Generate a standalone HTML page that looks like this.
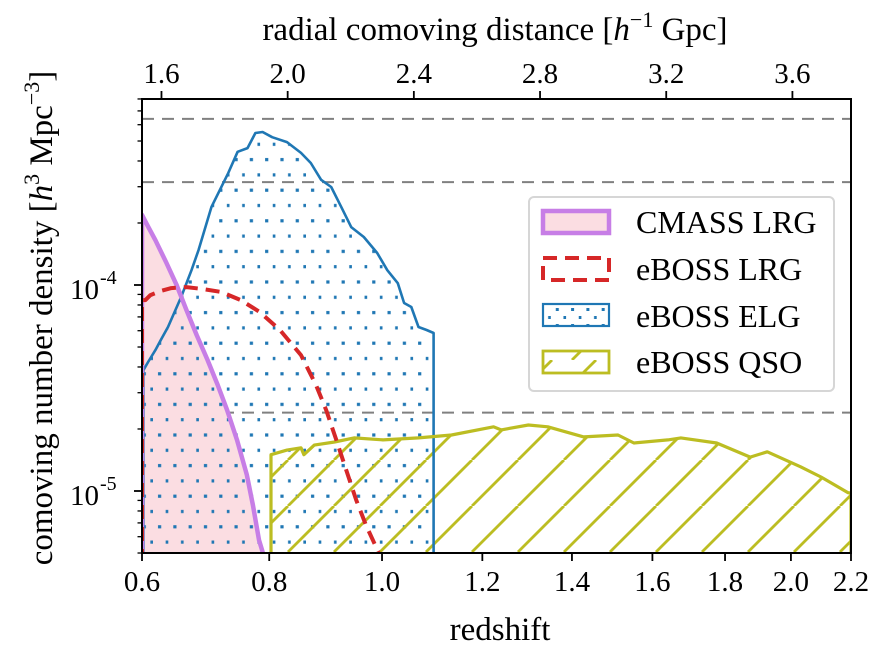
<!DOCTYPE html>
<html><head><meta charset="utf-8"><style>
html,body{margin:0;padding:0;background:#fff;}
svg{display:block;font-family:"Liberation Serif","DejaVu Serif",serif;}
</style></head><body>
<svg id="chart" width="890" height="652" viewBox="0 0 890 652" xmlns="http://www.w3.org/2000/svg">
<defs>
<pattern id="dots" patternUnits="userSpaceOnUse" width="15.3" height="30.6" x="0" y="0">
<rect x="5" y="5" width="3.2" height="3.2" fill="#1f77b4"/>
<rect x="12.65" y="20.3" width="3.2" height="3.2" fill="#1f77b4"/>
</pattern>
<pattern id="hatch" patternUnits="userSpaceOnUse" width="46" height="46" x="12" y="0">
<line x1="-46" y1="46" x2="0" y2="0" stroke="#bcbd22" stroke-width="2.8"/>
<line x1="0" y1="46" x2="46" y2="0" stroke="#bcbd22" stroke-width="2.8"/>
<line x1="46" y1="46" x2="92" y2="0" stroke="#bcbd22" stroke-width="2.8"/>
</pattern>
<pattern id="dotsLeg" patternUnits="userSpaceOnUse" width="15.3" height="16" x="0" y="0">
<rect x="5" y="4" width="3" height="3" fill="#1f77b4"/>
<rect x="12.65" y="12" width="3" height="3" fill="#1f77b4"/>
</pattern>
<pattern id="hatchLeg" patternUnits="userSpaceOnUse" width="44" height="24" x="0" y="0">
<line x1="0" y1="24" x2="24" y2="0" stroke="#bcbd22" stroke-width="2.8"/>
<line x1="44" y1="24" x2="68" y2="0" stroke="#bcbd22" stroke-width="2.8"/>
<line x1="-44" y1="24" x2="-20" y2="0" stroke="#bcbd22" stroke-width="2.8"/>
</pattern>
<clipPath id="plotClip"><rect x="142" y="99" width="709" height="454"/></clipPath>
</defs>
<g id="plot" clip-path="url(#plotClip)"></g>
<g id="axes"></g>
</svg>
<script>
// ---- data ----
const refLevels = [6.4e-4, 3.16e-4, 2.4e-5];

const cmassZ = [0.600,0.608,0.620,0.636,0.652,0.667,0.683,0.700,0.716,0.731,0.747,0.763,0.773,0.783,0.789];
const cmassN = [2.19e-4,1.95e-4,1.65e-4,1.29e-4,1.00e-4,7.57e-5,5.71e-5,4.33e-5,3.27e-5,2.47e-5,1.77e-5,1.20e-5,8.55e-6,5.78e-6,5.06e-6];

const lrgZ = [0.600,0.605,0.6125,0.628,0.644,0.667,0.691,0.722,0.753,0.784,0.818,0.854,0.880,0.898,0.916,0.934,0.952,0.970,0.993];
const lrgN = [8.45e-5,8.45e-5,8.93e-5,9.35e-5,9.66e-5,9.77e-5,9.57e-5,9.25e-5,8.45e-5,7.40e-5,6.05e-5,4.57e-5,3.27e-5,2.47e-5,1.77e-5,1.26e-5,9.04e-6,6.84e-6,5.06e-6];

const elgZ = [0.602,0.609,0.620,0.628,0.639,0.659,0.675,0.686,0.706,0.733,0.748,0.764,0.777,0.789,0.805,0.830,0.854,0.871,0.889,0.907,0.925,0.943,0.966,0.991,1.010,1.030,1.042,1.056,1.070,1.086,1.100];
const elgN = [3.86e-5,4.23e-5,4.83e-5,5.41e-5,6.25e-5,8.75e-5,1.18e-4,1.48e-4,2.39e-4,3.50e-4,4.43e-4,4.62e-4,5.47e-4,5.53e-4,5.22e-4,4.94e-4,4.38e-4,3.91e-4,3.24e-4,2.99e-4,2.39e-4,1.91e-4,1.71e-4,1.43e-4,1.18e-4,1.02e-4,8.18e-5,7.82e-5,6.25e-5,6.05e-5,5.85e-5];

const qsoZ = [0.803,0.830,0.854,0.859,0.877,0.913,0.948,1.002,1.070,1.136,1.224,1.240,1.300,1.344,1.428,1.512,1.552,1.641,1.676,1.776,1.874,1.926,2.031,2.098,2.190,2.200];
const qsoN = [1.50e-5,1.58e-5,1.62e-5,1.50e-5,1.67e-5,1.73e-5,1.81e-5,1.77e-5,1.81e-5,1.87e-5,2.05e-5,1.98e-5,2.09e-5,2.05e-5,1.83e-5,1.87e-5,1.71e-5,1.77e-5,1.81e-5,1.71e-5,1.46e-5,1.55e-5,1.31e-5,1.17e-5,9.8e-6,9.8e-6];

const zTicks = [0.6,0.8,1.0,1.2,1.4,1.6,1.8,2.0,2.2];
const zTickLabels = ["0.6","0.8","1.0","1.2","1.4","1.6","1.8","2.0","2.2"];
const dTicks = [1.6,2.0,2.4,2.8,3.2,3.6];
const dTickLabels = ["1.6","2.0","2.4","2.8","3.2","3.6"];
const yMajor = [1e-5,1e-4];
const yMajorExp = ["-5","-4"];

// ---- scales ----
const X0 = 142, X1 = 851, Y0 = 99, YB = 553;
function E(z){ return Math.sqrt(0.31*Math.pow(1+z,3)+0.69); }
function comov(z){ // h^-1 Gpc
  const n = 400; let s = 0; const h = z/n;
  for(let i=0;i<n;i++){ const a=i*h, b=a+h; s += h/6*(1/E(a)+4/E((a+b)/2)+1/E(b)); }
  return 2.99792458*s;
}
const D0 = comov(0.6), D1 = comov(2.2);
const dScale = (X1-X0)/(D1-D0);
function xD(d){ return X0 + (d-D0)*dScale; }
function xZ(z){ return xD(comov(z)); }
function yV(v){ return 285 - (Math.log10(v)+4)*206; }

const NS = "http://www.w3.org/2000/svg";
const plot = document.getElementById('plot');
const axes = document.getElementById('axes');
function mk(tag, attrs, parent){
  const e = document.createElementNS(NS, tag);
  for(const k in attrs) e.setAttribute(k, attrs[k]);
  parent.appendChild(e); return e;
}

refLevels.forEach((v,i)=>{
  const l = mk('line',{x1:X0,x2:X1,y1:yV(v),y2:yV(v),stroke:'#808080','stroke-width':2,'stroke-dasharray':'12,8'},plot);
  
  
});

function histPath(zs, ns, closeStart, closeEnd){
  let d = '';
  if(closeStart) d += 'M'+xZ(zs[0]).toFixed(1)+','+(YB+10)+' L';
  else d += 'M';
  d += zs.map((z,i)=>xZ(z).toFixed(1)+','+yV(ns[i]).toFixed(1)).join(' L');
  if(closeEnd) d += ' L'+xZ(zs[zs.length-1]).toFixed(1)+','+(YB+10);
  return d;
}

let p = mk('path',{d:histPath(cmassZ,cmassN,true,true)+' Z',fill:'#fbdde2',stroke:'none'},plot);


p = mk('path',{d:histPath(elgZ,elgN,true,true)+' Z',fill:'url(#dots)',stroke:'none'},plot);


p = mk('path',{d:histPath(qsoZ,qsoN,true,true)+' Z',fill:'url(#hatch)',stroke:'none'},plot);


p = mk('path',{d:histPath(elgZ,elgN,true,true),fill:'none',stroke:'#1f77b4','stroke-width':2.6,'stroke-linejoin':'round'},plot);


p = mk('path',{d:histPath(qsoZ,qsoN,true,true),fill:'none',stroke:'#bcbd22','stroke-width':3.2,'stroke-linejoin':'round'},plot);


p = mk('path',{d:histPath(cmassZ,cmassN,true,true),fill:'none',stroke:'#c77ee6','stroke-width':4.5,'stroke-linejoin':'round'},plot);


p = mk('path',{d:histPath(lrgZ,lrgN,true,true),fill:'none',stroke:'#d62728','stroke-width':4,'stroke-dasharray':'14,8','stroke-linejoin':'round'},plot);



let f = mk('rect',{x:X0,y:Y0,width:X1-X0,height:YB-Y0,fill:'none',stroke:'#000','stroke-width':2},axes);



zTicks.forEach((z,i)=>{
  const x = xZ(z);
  mk('line',{x1:x,x2:x,y1:YB,y2:YB+8,stroke:'#000','stroke-width':1.8},axes);
  const t = mk('text',{x:x,y:YB+38,'text-anchor':'middle','font-size':29,fill:'#000'},axes);
  t.textContent = zTickLabels[i];
  
  
});
dTicks.forEach((d,i)=>{
  const x = xD(d);
  mk('line',{x1:x,x2:x,y1:Y0,y2:Y0-8,stroke:'#000','stroke-width':1.8},axes);
  const t = mk('text',{x:x,y:Y0-16,'text-anchor':'middle','font-size':29,fill:'#000'},axes);
  t.textContent = dTickLabels[i];
  
  
});
for(let e=-6;e<=-3;e++){
  for(let m=1;m<=9;m++){
    const v = m*Math.pow(10,e); const y = yV(v);
    if(y<Y0-0.5||y>YB+0.5) continue;
    mk('line',{x1:X0,x2:X0-(m===1?8:4.5),y1:y,y2:y,stroke:'#000','stroke-width':m===1?1.8:1.3},axes);
  }
}
yMajor.forEach((v,i)=>{
  const y = yV(v);
  const t = mk('text',{x:99,y:y+14,'text-anchor':'end','font-size':29,fill:'#000'},axes);
  t.textContent = '10';
  
  
  const s = mk('text',{x:100,y:y-1,'text-anchor':'start','font-size':20,fill:'#000'},axes);
  s.textContent = yMajorExp[i];
  
  
});
</script>
<script>
(function(){
const svg = document.getElementById('chart');
const NS="http://www.w3.org/2000/svg";
const g = document.createElementNS(NS,'g');
svg.appendChild(g);
g.innerHTML = `
<text x="500" y="640" text-anchor="middle" font-size="33">redshift</text>
<text x="495" y="40" text-anchor="middle" font-size="33">radial comoving distance [<tspan font-style="italic">h</tspan><tspan font-size="22" dy="-13">−1</tspan><tspan dy="13"> Gpc]</tspan></text>
<text transform="translate(52,318) rotate(-90)" text-anchor="middle" font-size="33">comoving number density [<tspan font-style="italic">h</tspan><tspan font-size="22" dy="-13">3</tspan><tspan dy="13"> Mpc</tspan><tspan font-size="22" dy="-13">−3</tspan><tspan dy="13">]</tspan></text>
<g>
<rect x="529" y="197" width="305" height="194" rx="5" fill="#fff" fill-opacity="0.85" stroke="#d6d6d6" stroke-width="2"/>
<g>
<rect x="543" y="211" width="66" height="22" fill="#fbdde2" stroke="#c77ee6" stroke-width="4.5"/>
<text x="636" y="233" font-size="32">CMASS LRG</text></g>
<g>
<rect x="543" y="258" width="66" height="22" fill="none" stroke="#d62728" stroke-width="4" stroke-dasharray="14,8"/>
<text x="636" y="280" font-size="32">eBOSS LRG</text></g>
<g>
<rect x="543" y="304" width="66" height="22" fill="url(#dotsLeg)" stroke="#1f77b4" stroke-width="2.2"/>
<text x="636" y="327" font-size="32">eBOSS ELG</text></g>
<g>
<rect x="543" y="351" width="66" height="22" fill="url(#hatchLeg)" stroke="#bcbd22" stroke-width="2.8"/>
<text x="636" y="373" font-size="32">eBOSS QSO</text></g>
</g>`;
})();
</script>
</body></html>
